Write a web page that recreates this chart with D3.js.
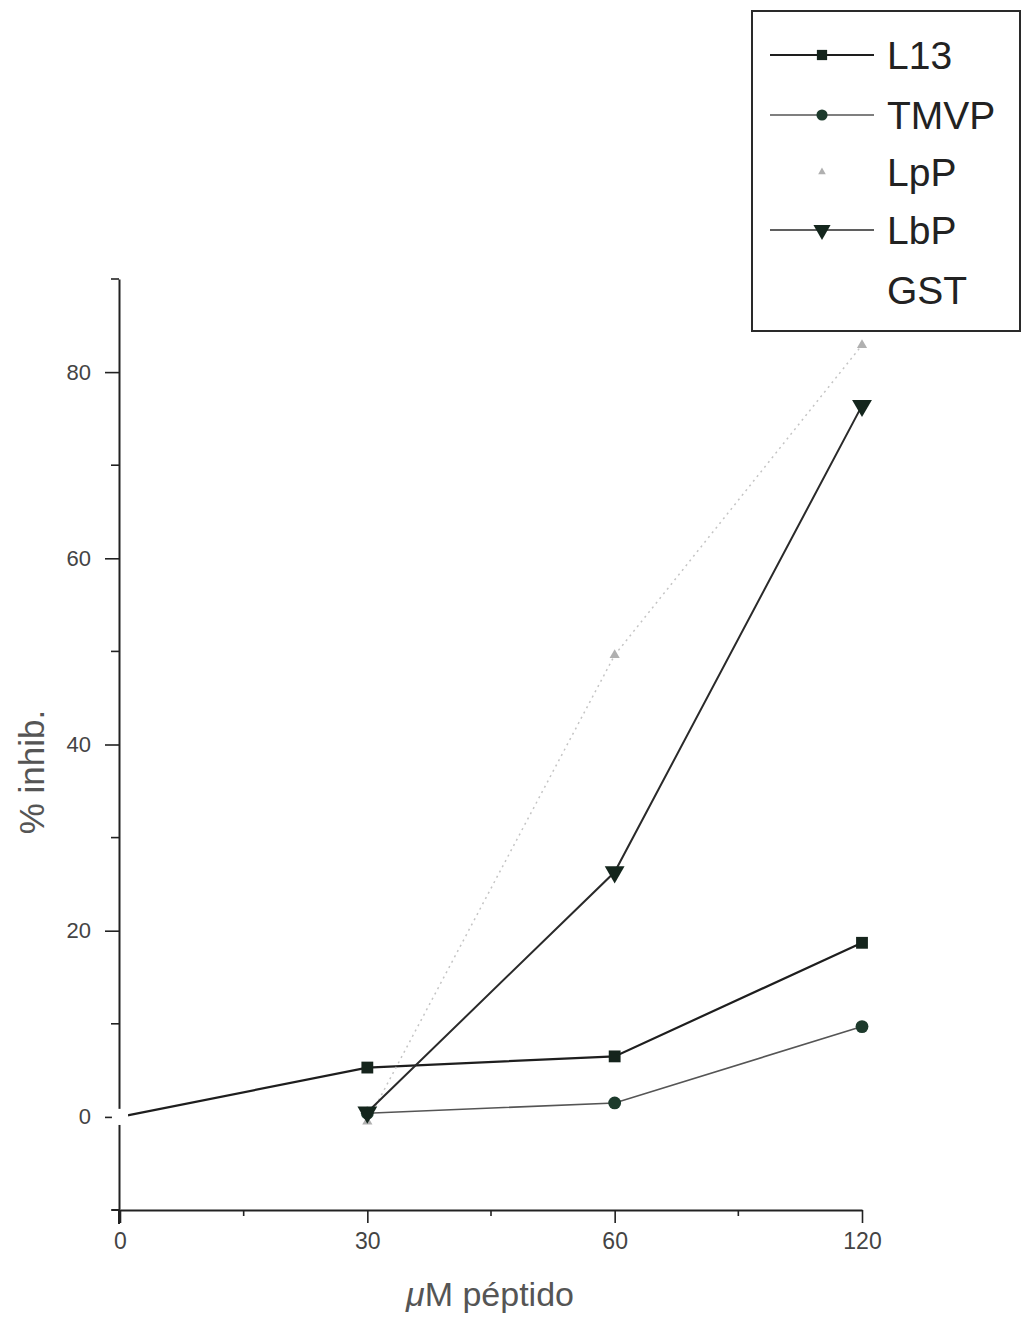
<!DOCTYPE html>
<html>
<head>
<meta charset="utf-8">
<script src="https://cdn.jsdelivr.net/npm/d3@7"></script>
<style>
  html, body { margin: 0; padding: 0; background: #fff; }
  svg { display: block; font-family: "Liberation Sans", Arial, sans-serif; }
</style>
</head>
<body>
<svg id="chart" width="1024" height="1318"></svg>
<script>
// ---- data ----
const doses = ["0", "30", "60", "120"];
const seriesNames = ["L13", "TMVP", "LpP", "LbP", "GST"];
const l13Values  = [0, 5.3, 6.5, 18.7];
const tmvpValues = [null, 0.4, 1.5, 9.7];
const lppValues  = [null, -0.5, 49.6, 82.9];
const lbpValues  = [null, 0.5, 26.3, 76.4];
const gstValues  = [0, null, null, null];
const yMajorTicks = [0, 20, 40, 60, 80];
const yMinorTicks = [-10, 10, 30, 50, 70, 90];
const yDomain = [-10, 90];

const svg = d3.select("#chart");

const x = d3.scalePoint().domain(doses).range([120, 862]).padding(0);
const y = d3.scaleLinear().domain(yDomain).range([1210, 279]);

const series = [
  { name: seriesNames[0], values: l13Values,  symbol: d3.symbolSquare,   size: 140, rot: 0,   fill: "#15241c", stroke: "#1e1e1e", width: 2.2, dash: null,  legendLine: true },
  { name: seriesNames[1], values: tmvpValues, symbol: d3.symbolCircle,   size: 130, rot: 0,   fill: "#1d3a2c", stroke: "#555",    width: 1.6, dash: null,  legendLine: true },
  { name: seriesNames[2], values: lppValues,  symbol: d3.symbolTriangle, size: 45,  rot: 0,   fill: "#b0b0b0", stroke: "#c4c4c4", width: 1.5, dash: "2,4", legendLine: false },
  { name: seriesNames[3], values: lbpValues,  symbol: d3.symbolTriangle, size: 170, rot: 180, fill: "#14261d", stroke: "#2a2a2a", width: 2,   dash: null,  legendLine: true },
  { name: seriesNames[4], values: gstValues,  symbol: d3.symbolSquare,   size: 260, rot: 0,   fill: "#ffffff", stroke: "#ffffff", width: 1,   dash: null,  legendLine: false }
];

// ---- axes ----
const yAxis = d3.axisLeft(y).tickValues(yMajorTicks).tickSize(14).tickSizeOuter(0).tickPadding(14);
const gy = svg.append("g").attr("transform", `translate(${x(doses[0]) - 1},0)`).call(yAxis);
gy.select(".domain").attr("stroke", "#222").attr("stroke-width", 2);
gy.selectAll(".tick line").attr("stroke", "#222").attr("stroke-width", 1.6);
gy.selectAll(".tick text").attr("font-size", 22).attr("fill", "#444");
// minor y ticks
gy.selectAll(".minor").data(yMinorTicks).enter().append("line")
  .attr("x1", -8).attr("x2", 0)
  .attr("y1", d => y(d)).attr("y2", d => y(d))
  .attr("stroke", "#222").attr("stroke-width", 1.6);
// y-axis extension below x axis
gy.append("line").attr("x1", 0).attr("x2", 0)
  .attr("y1", y(yDomain[0])).attr("y2", y(yDomain[0]) + 14)
  .attr("stroke", "#222").attr("stroke-width", 2);

const xAxis = d3.axisBottom(x).tickSize(13).tickSizeOuter(0).tickPadding(10);
const gx = svg.append("g").attr("transform", `translate(0,${y(yDomain[0])})`).call(xAxis);
gx.select(".domain").attr("stroke", "#222").attr("stroke-width", 2);
gx.selectAll(".tick line").attr("stroke", "#222").attr("stroke-width", 1.6);
gx.selectAll(".tick text").attr("font-size", 23).attr("fill", "#444");
// minor x ticks at midpoints
const mids = d3.pairs(doses).map(([a, b]) => (x(a) + x(b)) / 2);
gx.selectAll(".minorx").data(mids).enter().append("line")
  .attr("x1", d => d).attr("x2", d => d).attr("y1", 0).attr("y2", 6)
  .attr("stroke", "#222").attr("stroke-width", 1.6);
// x-axis extension to the left
gx.append("line").attr("x1", x(doses[0]) - 8).attr("x2", x(doses[0]))
  .attr("y1", 0).attr("y2", 0).attr("stroke", "#222").attr("stroke-width", 2);

// ---- axis titles ----
svg.append("text")
  .attr("transform", `translate(44,772) rotate(-90)`)
  .attr("text-anchor", "middle")
  .attr("font-size", 35).attr("fill", "#555")
  .text("% inhib.");

const xt = svg.append("text")
  .attr("x", 490).attr("y", 1306)
  .attr("text-anchor", "middle")
  .attr("font-size", 34).attr("fill", "#555");
xt.append("tspan").attr("font-style", "italic").text("\u03BC");
xt.append("tspan").text("M péptido");

// ---- lines & markers ----
const line = d3.line()
  .defined(d => d.v !== null)
  .x(d => x(d.k)).y(d => y(d.v));

series.forEach(s => {
  const pts = doses.map((k, i) => ({ k, v: s.values[i] }));
  svg.append("path").datum(pts)
    .attr("d", line)
    .attr("fill", "none")
    .attr("stroke", s.stroke)
    .attr("stroke-width", s.width)
    .attr("stroke-dasharray", s.dash);
  svg.selectAll(null).data(pts.filter(p => p.v !== null)).enter().append("path")
    .attr("d", d3.symbol().type(s.symbol).size(s.size))
    .attr("transform", d => `translate(${x(d.k)},${y(d.v)}) rotate(${s.rot})`)
    .attr("fill", s.fill);
});

// ---- legend ----
const lg = svg.append("g");
lg.append("rect").attr("x", 752).attr("y", 11).attr("width", 268).attr("height", 320)
  .attr("fill", "#fff").attr("stroke", "#2a2a2a").attr("stroke-width", 2);
const rowY = [55, 115, 172, 230, 290];
series.forEach((s, i) => {
  const ry = rowY[i];
  if (s.legendLine) {
    lg.append("line").attr("x1", 770).attr("x2", 874).attr("y1", ry).attr("y2", ry)
      .attr("stroke", s.stroke).attr("stroke-width", s.width * 0.8);
  }
  lg.append("path")
    .attr("d", d3.symbol().type(s.symbol).size(s.name === "LpP" ? 25 : s.size * 0.75))
    .attr("transform", `translate(822,${ry}) rotate(${s.rot})`)
    .attr("fill", s.fill);
  lg.append("text").attr("x", 887).attr("y", ry + 14)
    .attr("font-size", 39).attr("fill", "#222")
    .text(s.name);
});
</script>
</body>
</html>
